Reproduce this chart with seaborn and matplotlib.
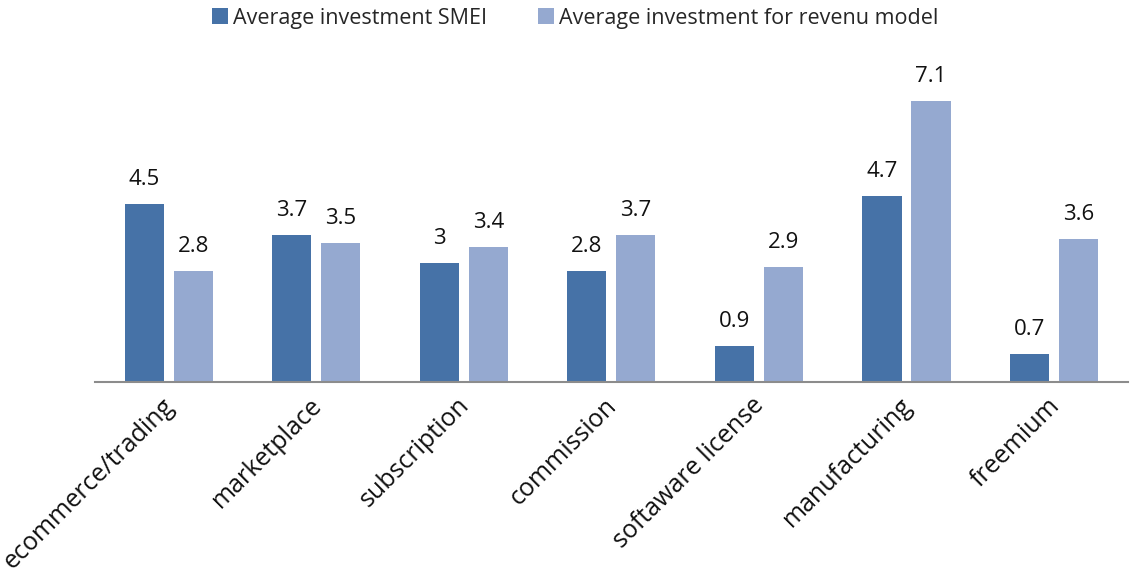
import matplotlib
matplotlib.use("Agg")
import matplotlib.pyplot as plt
import matplotlib.transforms as mtransforms
import seaborn as sns
import pandas as pd
from matplotlib.patches import Patch

categories = ["ecommerce/trading", "marketplace", "subscription", "commission",
              "softaware license", "manufacturing", "freemium"]
smei = [4.5, 3.7, 3.0, 2.8, 0.9, 4.7, 0.7]
revenue_model = [2.8, 3.5, 3.4, 3.7, 2.9, 7.1, 3.6]
series_names = ["Average investment SMEI", "Average investment for revenu model"]

df = pd.DataFrame({
    "category": categories * 2,
    "value": smei + revenue_model,
    "series": [series_names[0]] * len(categories) + [series_names[1]] * len(categories),
})

colors = ["#4672A7", "#95A9D0"]

sns.set_theme(style="white")
plt.rcParams["font.family"] = ["Open Sans", "DejaVu Sans"]

fig = plt.figure(figsize=(11.3, 5.85), dpi=100)
ax = fig.add_axes([0.084, 0.347, 0.914, 0.542])

sns.barplot(data=df, x="category", y="value", hue="series", order=categories,
            hue_order=series_names, palette=colors, width=0.664, gap=0.2,
            ax=ax, legend=False, saturation=1, linewidth=0)

for cont in ax.containers:
    ax.bar_label(cont, labels=[f"{v:g}" for v in cont.datavalues],
                 padding=10, fontsize=16, color="#111111")

ax.set_xlim(-0.5, 6.5)
ax.set_ylim(0, 8)
ax.set_xlabel("")
ax.set_ylabel("")
ax.set_yticks([])
for s in ["top", "right", "left"]:
    ax.spines[s].set_visible(False)
ax.spines["bottom"].set_color("#8C8C8C")
ax.spines["bottom"].set_linewidth(1.5)
ax.tick_params(axis="x", length=0, pad=8)
ax.set_xticks(range(len(categories)))
ax.set_xticklabels(categories, rotation=45, ha="right", va="top",
                   rotation_mode="anchor", fontsize=18, color="#111111")
shift = mtransforms.ScaledTranslation(-7 / 100, 0, fig.dpi_scale_trans)
for lbl in ax.get_xticklabels():
    lbl.set_transform(lbl.get_transform() + shift)

handles = [Patch(facecolor=c, edgecolor="none") for c in colors]
fig.legend(handles, series_names, loc="upper center", bbox_to_anchor=(0.509, 1.02),
           ncol=2, frameon=False, fontsize=15.5, handlelength=0.75, handleheight=0.75,
           handletextpad=0.2, columnspacing=2.4)

fig.savefig("out.png", dpi=100)
